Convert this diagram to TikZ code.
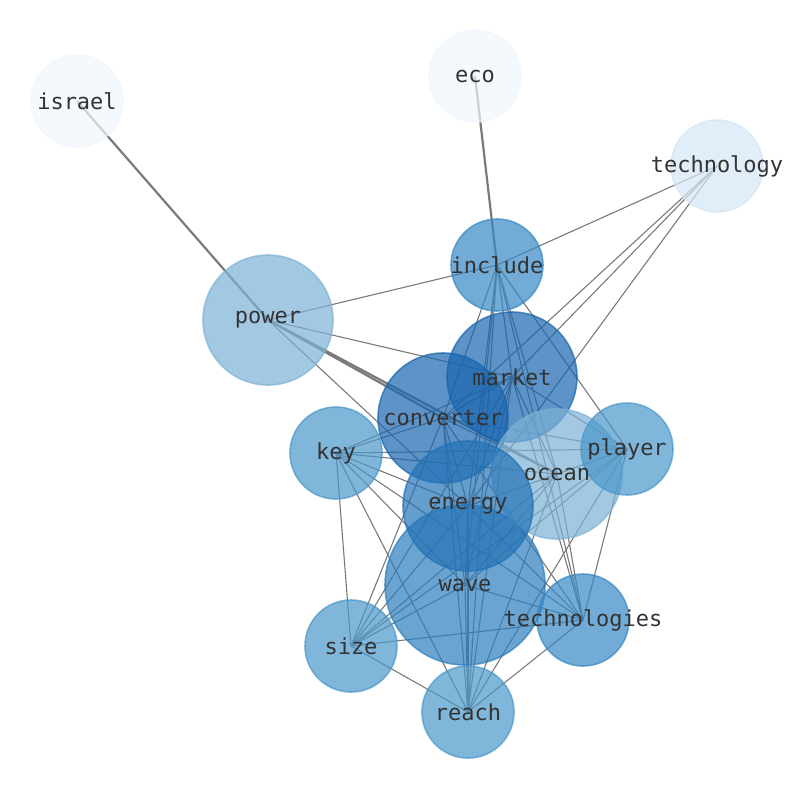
\documentclass[tikz,border=0pt]{standalone}
\usepackage{fontspec}
\setmonofont{DejaVu Sans Mono}
\pgfdeclarelayer{edgelayer}
\pgfsetlayers{edgelayer,main}
\definecolor{cfaint}{HTML}{F0F6FD}
\definecolor{ctechy}{HTML}{D4E5F5}
\definecolor{clight}{HTML}{7CB2D6}
\definecolor{cmid}{HTML}{4A97CA}
\definecolor{cinc}{HTML}{3688C3}
\definecolor{cwave}{HTML}{2C7EBD}
\definecolor{cdark}{HTML}{1865AE}
\definecolor{cenergy}{HTML}{2373B6}
\definecolor{edgec}{HTML}{7A7A7A}
\definecolor{labelc}{HTML}{333333}
\tikzset{
  vtx/.style 2 args={circle, inner sep=0pt, minimum size=#1, fill=#2, draw=#2,
    fill opacity=0.7, draw opacity=0.7, line width=1.6pt},
  lbl/.style={font=\fontsize{22}{26}\selectfont\ttfamily, text=labelc, inner sep=0pt},
  lnk/.style={draw=edgec, line width=1.1pt},
  heavylnk/.style={draw=edgec, line width=2.2pt},
}
\begin{document}
\begin{tikzpicture}[x=1pt,y=-1pt]
\useasboundingbox (0,0) rectangle (794,790);
% nodes (circles)
\node[vtx={92pt}{cfaint}] (israel) at (77,101) {};
\node[vtx={92pt}{cfaint}] (eco) at (475,76) {};
\node[vtx={92pt}{ctechy}] (technology) at (717,166) {};
\node[vtx={130pt}{clight}] (power) at (268,320) {};
\node[vtx={92pt}{cinc}] (include) at (497,265) {};
\node[vtx={160pt}{cwave}] (wave) at (465,585) {};
\node[vtx={130pt}{cdark}] (converter) at (443,418) {};
\node[vtx={130pt}{cdark}] (market) at (512,377) {};
\node[vtx={130pt}{clight}] (ocean) at (557,474) {};
\node[vtx={130pt}{cenergy}] (energy) at (468,506) {};
\node[vtx={92pt}{cmid}] (key) at (336,453) {};
\node[vtx={92pt}{cmid}] (player) at (627,449) {};
\node[vtx={92pt}{cinc}] (technologies) at (583,620) {};
\node[vtx={92pt}{cmid}] (size) at (351,646) {};
\node[vtx={92pt}{cmid}] (reach) at (468,712) {};
% labels
\node[lbl] (t-israel) at (israel.center) {israel};
\node[lbl] (t-eco) at (eco.center) {eco};
\node[lbl] (t-technology) at (technology.center) {technology};
\node[lbl] (t-power) at (power.center) {power};
\node[lbl] (t-include) at (include.center) {include};
\node[lbl] (t-wave) at (wave.center) {wave};
\node[lbl] (t-converter) at (converter.center) {converter};
\node[lbl] (t-market) at (market.center) {market};
\node[lbl] (t-ocean) at (ocean.center) {ocean};
\node[lbl] (t-energy) at (energy.center) {energy};
\node[lbl] (t-key) at (key.center) {key};
\node[lbl] (t-player) at (player.center) {player};
\node[lbl] (t-technologies) at (technologies.center) {technologies};
\node[lbl] (t-size) at (size.center) {size};
\node[lbl] (t-reach) at (reach.center) {reach};
% edges
\begin{pgfonlayer}{edgelayer}
\draw[heavylnk] (israel.center) -- (power.center);
\draw[heavylnk] (eco.center) -- (include.center);
\draw[heavylnk] (power.center) -- (converter.center);
\draw[heavylnk] (power.center) -- (ocean.center);
\foreach \a/\b in {
  technology/include, technology/market, technology/converter, technology/energy,
  power/include, power/market, power/energy,
  include/market, include/converter, include/energy, include/wave, include/ocean,
  include/technologies, include/reach, include/player,
  market/converter, market/key, market/player, market/ocean, market/energy,
  market/wave, market/technologies, market/size, market/reach,
  converter/key, converter/player, converter/ocean, converter/energy, converter/wave,
  converter/technologies, converter/size, converter/reach,
  key/player, key/energy, key/wave, key/technologies, key/size, key/reach, key/ocean,
  player/ocean, player/energy, player/wave, player/technologies, player/size, player/reach,
  ocean/energy, ocean/wave, ocean/technologies, ocean/size, ocean/reach,
  energy/wave, energy/technologies, energy/size, energy/reach,
  wave/technologies, wave/size, wave/reach,
  technologies/size, technologies/reach, size/reach}
  {\draw[lnk] (\a.center) -- (\b.center);}
\end{pgfonlayer}
\end{tikzpicture}
\end{document}
